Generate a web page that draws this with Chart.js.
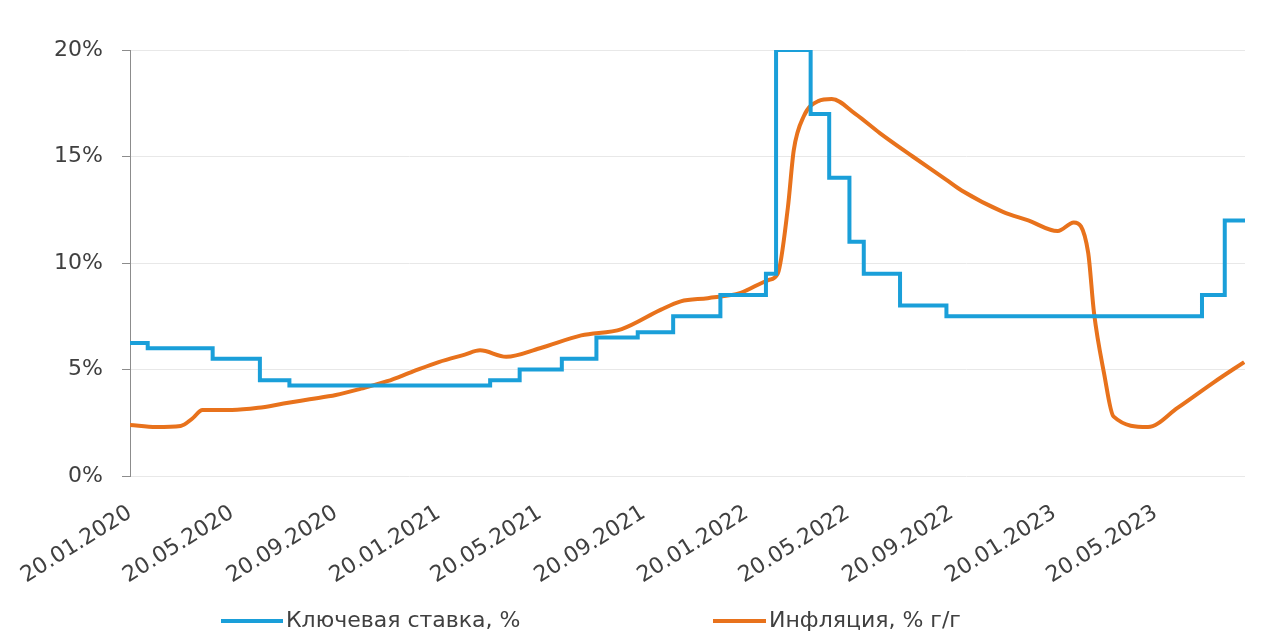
<!DOCTYPE html>
<html lang="ru">
<head>
<meta charset="utf-8">
<title>Ключевая ставка и инфляция</title>
<script src="https://cdn.jsdelivr.net/npm/chart.js@4.4.1/dist/chart.umd.min.js"></script>
<style>
  html, body { margin: 0; padding: 0; background: #fff; }
  #wrap { position: relative; width: 1277px; height: 635px; }
  #legend { position: absolute; left: 0; top: 606px; width: 1277px; height: 28px;
            font: 22px "DejaVu Sans", sans-serif; color: #404040; }
  .item { position: absolute; top: 0; line-height: 28px; white-space: nowrap; }
  .item i { display: inline-block; height: 4px; vertical-align: middle; margin-right: 3px; }
</style>
</head>
<body>
<div id="wrap">
  <canvas id="chart" width="1277" height="635"></canvas>
  <div id="legend">
    <span class="item" style="left:221px"><i style="width:62px;background:#1a9fd9"></i>Ключевая ставка, %</span>
    <span class="item" style="left:713px"><i style="width:53px;background:#e8721c"></i>Инфляция, % г/г</span>
  </div>
</div>
<script>
/* Ключевая ставка и инфляция, 2020–2023 */

var xTickLabels = ['20.01.2020', '20.05.2020', '20.09.2020', '20.01.2021', '20.05.2021', '20.09.2021',
                   '20.01.2022', '20.05.2022', '20.09.2022', '20.01.2023', '20.05.2023'];
var xEnd = '03.09.2023';
var yTicks = [0, 5, 10, 15, 20];

var rateDates = ['20.01.2020', '10.02.2020', '27.04.2020', '22.06.2020', '27.07.2020', '22.03.2021',
                 '26.04.2021', '15.06.2021', '26.07.2021', '13.09.2021', '25.10.2021', '20.12.2021',
                 '12.02.2022', '24.02.2022', '06.04.2022', '28.04.2022', '22.05.2022', '08.06.2022',
                 '21.07.2022', '14.09.2022', '14.07.2023', '10.08.2023', '03.09.2023'];
var rateValues = [6.25, 6.0, 5.5, 4.5, 4.25, 4.5, 5.0, 5.5, 6.5, 6.75, 7.5, 8.5,
                  9.5, 20, 17, 14, 11, 9.5, 8, 7.5, 8.5, 12, 12];

var inflDates = ['20.01.2020', '20.02.2020', '20.03.2020', '03.04.2020', '15.04.2020', '20.05.2020',
                 '20.06.2020', '20.07.2020', '20.08.2020', '20.09.2020', '20.10.2020', '20.11.2020',
                 '20.12.2020', '20.01.2021', '20.02.2021', '10.03.2021', '10.04.2021', '20.05.2021',
                 '08.07.2021', '25.08.2021', '10.10.2021', '03.11.2021', '05.12.2021', '13.01.2022',
                 '15.02.2022', '26.02.2022', '10.03.2022', '17.03.2022', '29.03.2022', '15.04.2022',
                 '01.05.2022', '29.05.2022', '27.06.2022', '05.08.2022', '14.09.2022', '02.10.2022',
                 '20.11.2022', '20.12.2022', '24.01.2023', '12.02.2023', '01.03.2023', '08.03.2023',
                 '20.03.2023', '31.03.2023', '11.05.2023', '15.06.2023', '28.07.2023', '02.09.2023'];
var inflValues = [2.4, 2.3, 2.35, 2.7, 3.1, 3.1,
                  3.2, 3.4, 3.6, 3.8, 4.1, 4.45,
                  4.9, 5.35, 5.7, 5.9, 5.6, 6.0,
                  6.6, 6.9, 7.8, 8.2, 8.35, 8.6,
                  9.2, 9.5, 12.6, 15.3, 16.9, 17.6,
                  17.7, 17.0, 16.1, 15.0, 13.9, 13.4,
                  12.4, 12.0, 11.5, 11.9, 10.5, 7.65,
                  4.8, 2.8, 2.3, 3.2, 4.4, 5.35];

function toDay(s) {
    var p = s.split('.');
    return Date.UTC(+p[2], +p[1] - 1, +p[0]) / 86400000;
}
function fromDay(d) {
    var dt = new Date(d * 86400000);
    var dd = ('0' + dt.getUTCDate()).slice(-2), mm = ('0' + (dt.getUTCMonth() + 1)).slice(-2);
    return dd + '.' + mm + '.' + dt.getUTCFullYear();
}
function points(dates, values) {
    return dates.map(function (d, i) { return { x: toDay(d), y: values[i] }; });
}

var textColor = '#404040';
var font = { family: '"DejaVu Sans", sans-serif', size: 22 };

new Chart(document.getElementById('chart').getContext('2d'), {
    type: 'line',
    data: {
        datasets: [{
            label: 'Ключевая ставка, %',
            data: points(rateDates, rateValues),
            borderColor: '#1a9fd9',
            borderWidth: 4,
            stepped: true,
            pointRadius: 0
        }, {
            label: 'Инфляция, % г/г',
            data: points(inflDates, inflValues),
            borderColor: '#e8721c',
            borderWidth: 4,
            cubicInterpolationMode: 'monotone',
            pointRadius: 0
        }]
    },
    options: {
        responsive: false,
        animation: false,
        layout: { padding: { left: 0, top: 50, right: 32, bottom: 0 } },
        plugins: { legend: { display: false }, tooltip: { enabled: false } },
        scales: {
            x: {
                type: 'linear',
                min: toDay(xTickLabels[0]),
                max: toDay(xEnd),
                afterBuildTicks: function (s) {
                    s.ticks = xTickLabels.map(function (l) { return { value: toDay(l) }; });
                },
                afterFit: function (s) { s.height = 159; },
                grid: { display: false },
                border: { display: false },
                ticks: {
                    autoSkip: false,
                    minRotation: 32,
                    maxRotation: 32,
                    padding: 16,
                    color: textColor,
                    font: font,
                    callback: function (v) { return fromDay(v); }
                }
            },
            y: {
                min: 0,
                max: 20,
                afterBuildTicks: function (s) {
                    s.ticks = yTicks.map(function (v) { return { value: v }; });
                },
                afterFit: function (s) { s.width = 130; },
                grid: { color: '#e8e8e8', tickColor: '#8c8c8c', tickLength: 8 },
                border: { display: true, color: '#8c8c8c', width: 1 },
                ticks: {
                    padding: 19,
                    color: textColor,
                    font: font,
                    callback: function (v) { return v + '%'; }
                }
            }
        }
    }
});
</script>
</body>
</html>
